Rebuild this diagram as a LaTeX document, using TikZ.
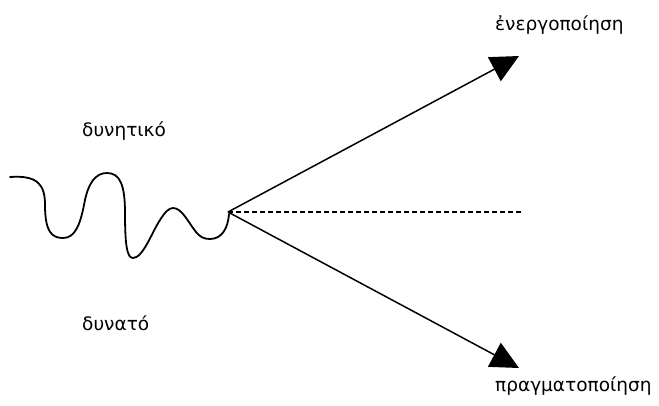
\documentclass[tikz,border=0pt]{standalone}
\usepackage{fontspec}
\setmainfont{DejaVu Sans}
\usetikzlibrary{arrows.meta}
\begin{document}
\begin{tikzpicture}[x=1pt,y=-1pt,
  lbl/.style={font=\fontsize{18.5}{21}\selectfont, inner sep=0pt},
  ray/.style={line width=1.5pt, -{Triangle[length=28pt,width=27pt]}},
  wave/.style={line width=1.8pt, line cap=round}]
\useasboundingbox (0,0) rectangle (659,405);
\coordinate (v) at (228,212);
\coordinate (t1) at (519,56);
\coordinate (t2) at (519,368);
\coordinate (d) at (522,212);
\draw[ray] (v) -- (t1);
\draw[ray] (v) -- (t2);
\draw[line width=1.2pt, dash pattern=on 5pt off 3pt] (v) -- (d);
\draw[wave] (10,177) .. controls (38,175) and (45,185) .. (45,205)
  .. controls (45,232) and (52,238) .. (63,238)
  .. controls (75,238) and (80,225) .. (84,205)
  .. controls (88,182) and (96,173) .. (107,173)
  .. controls (120,173) and (125,185) .. (125,213)
  .. controls (125,245) and (127,258) .. (133,258)
  .. controls (143,258) and (152,232) .. (160,220)
  .. controls (165,212) and (169,208) .. (173,208)
  .. controls (182,208) and (188,222) .. (196,232)
  .. controls (200,237) and (204,239) .. (210,239)
  .. controls (222,239) and (228,228) .. (229,214);
\node[lbl, anchor=west] (a) at (495,25) {ἐνεργοποίηση};
\node[lbl, anchor=west] (b) at (495,386) {πραγματοποίηση};
\node[lbl, anchor=west] (c) at (82,131) {δυνητικό};
\node[lbl, anchor=west] (e) at (82,323) {δυνατό};
\end{tikzpicture}
\end{document}
